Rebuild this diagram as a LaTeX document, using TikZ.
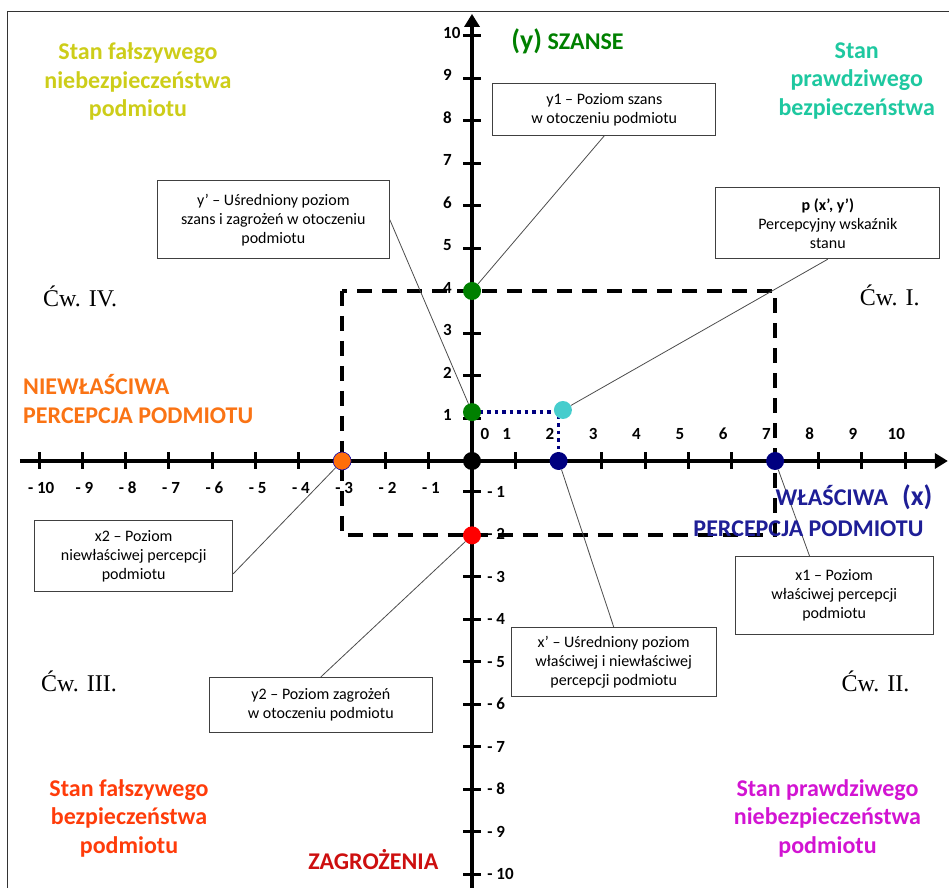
\documentclass[tikz,border=0pt]{standalone}
\usepackage{fontspec}
\setmainfont{Carlito}
\newfontfamily\cwfont{Liberation Serif}
\usetikzlibrary{arrows.meta}

\definecolor{stanyellow}{RGB}{205,205,25}
\definecolor{szgreen}{RGB}{0,128,0}
\definecolor{stanturq}{RGB}{30,200,160}
\definecolor{niewor}{RGB}{250,115,20}
\definecolor{wlnavy}{RGB}{30,30,150}
\definecolor{falszred}{RGB}{255,60,10}
\definecolor{zagred}{RGB}{205,15,15}
\definecolor{prawmag}{RGB}{210,20,210}
\definecolor{dotgreen}{RGB}{0,128,0}
\definecolor{dotcyan}{RGB}{70,205,205}
\definecolor{dotnavy}{RGB}{0,0,128}
\definecolor{dotorange}{RGB}{255,110,10}
\definecolor{dotred}{RGB}{255,0,0}

\begin{document}
\begin{tikzpicture}[x=43.3pt,y=42.5pt]

  \tikzset{main box/.style={rectangle, draw=black!75, line width=1pt,
  		fill=white, align=center, inner sep=0pt,
  		font=\fontsize{16}{19}\selectfont}, }
  \tikzset{title/.style={font=\bfseries\fontsize{24}{28.5}\selectfont,
  		align=center, inner sep=0pt}, }
  \tikzset{cw/.style={font=\cwfont\fontsize{24}{28}\selectfont, inner sep=0pt}, }
  \tikzset{num/.style={font=\bfseries\fontsize{17}{17}\selectfont, inner sep=0pt}, }
  \tikzset{dot/.style={circle, inner sep=0pt, minimum size=18pt}, }
  \tikzset{linea/.style={draw=black!70, line width=0.8pt}, }
  \tikzset{axis/.style={line width=4pt, -{Triangle[length=13pt,width=15pt]}}, }
  \tikzset{tick/.style={line width=3pt}, }
  \tikzset{dashed box/.style={line width=4pt, dash pattern=on 15pt off 10pt}, }
  \tikzset{dotted line/.style={draw=dotnavy, line width=3.5pt, dash pattern=on 3.5pt off 4pt}, }

\useasboundingbox (-10.901,-10.024) rectangle (11.016,10.847);
\draw[black!80, line width=1pt] (-10.739,-10.5) rectangle (11.5,10.565);

\coordinate (y1) at (0,4);
\coordinate (yp) at (0,1.15);
\coordinate (y2) at (0,-1.75);
\coordinate (x1) at (7,0);
\coordinate (x2) at (-3,0);
\coordinate (xp) at (2,0);
\coordinate (p)  at (2.1,1.2);

\draw[dashed box] (x2 |- y1) rectangle (x1 |- y2);
\draw[dotted line] (yp) -| (xp);

%% axes
\draw[axis] (-10.44,0) -- (10.99,0);
\draw[axis] (0,-10.5) -- (0,10.52);
\foreach \i in {-10,...,-1,1,2,...,10}
  \draw[tick] (\i,0.2) -- (\i,-0.2);
\foreach \i in {1,...,10}
  \draw[tick] (-0.2,\i) -- (0.2,\i);
\foreach \i in {1,...,10}
  \draw[tick] (-0.2,-\i+0.28) -- (0.2,-\i+0.28);

\node[num] (n0) at (0.3,0.64) {0};
\foreach \i in {1,...,10}
  \node[num] at (\i-0.2,0.64) {\i};
\foreach \i in {1,...,10}
  \node[num] at (-\i+0.05,-0.64) {- \i};
\foreach \i in {1,...,10}
  \node[num, anchor=west] at (-0.67,\i+0.08) {\i};
\foreach \i in {1,...,10}
  \node[num, anchor=west] at (0.35,-\i+0.28) {- \i};

%% points
\node[dot, fill=dotgreen] (gy1) at (y1) {};
\node[dot, fill=dotgreen] (gyp) at (yp) {};
\node[dot, fill=black] (o) at (0,0) {};
\node[dot, fill=dotcyan] (cp) at (p) {};
\node[dot, fill=dotnavy] (nxp) at (xp) {};
\node[dot, fill=dotnavy] (nx1) at (x1) {};
\node[dot, fill=dotorange, draw=blue!70!black, line width=0.6pt] (ox2) at (x2) {};
\node[dot, fill=dotred] (ry2) at (y2) {};

%% boxes
\node[main box, minimum width=223pt, minimum height=52pt] (y1box) at (3.055,8.275)
  {y1 –  Poziom  szans\\w otoczeniu podmiotu};
\node[main box, minimum width=232pt, minimum height=78pt] (ypbox) at (-4.589,5.678)
  {y’ – Uśredniony  poziom\\szans i zagrożeń w otoczeniu\\podmiotu};
\node[main box, minimum width=224pt, minimum height=71pt] (pbox) at (8.217,5.595)
  {\textbf{p (x’, y’)}\\Percepcyjny wskaźnik\\stanu};
\node[main box, minimum width=198pt, minimum height=71pt] (x2box) at (-7.813,-2.242)
  {x2 – Poziom\\niewłaściwej percepcji\\podmiotu};
\node[main box, minimum width=223pt, minimum height=55pt] (y2box) at (-3.492,-5.741)
  {y2 – Poziom  zagrożeń\\w otoczeniu  podmiotu};
\node[main box, minimum width=205pt, minimum height=69pt] (xpbox) at (3.273,-4.729)
  {x’ – Uśredniony poziom\\właściwej i niewłaściwej\\percepcji podmiotu};
\node[main box, minimum width=198pt, minimum height=78pt] (x1box) at (8.365,-3.165)
  {x1 – Poziom\\właściwej percepcji\\podmiotu};

\foreach \x/\y in {y1box.south/gy1, ypbox.east/gyp, pbox.south/cp, x2box.-10/ox2,
  y2box.north/ry2, xpbox.north/nxp, x1box.122/nx1}
  \draw[linea] (\x) -- (\y);

%% titles
\node[title, text=stanyellow] (falszneb) at (-7.714,8.925)
  {Stan fałszywego\\niebezpieczeństwa\\podmiotu};
\node[title, text=szgreen] (szanse) at (2.206,9.866)
  {{\fontsize{28}{28}\selectfont(y)} SZANSE};
\node[title, text=stanturq] (prawbez) at (8.885,8.948)
  {Stan\\prawdziwego\\bezpieczeństwa};
\node[title, text=niewor, align=left, anchor=west] (niewl) at (-10.37,1.454)
  {NIEWŁAŚCIWA\\PERCEPCJA PODMIOTU};
\node[title, text=wlnavy] (wl) at (8.823,-0.847)
  {WŁAŚCIWA\hspace{14pt}{\fontsize{28}{28}\selectfont(x)}};
\node[title, text=wlnavy] (wlperc) at (7.771,-1.584) {PERCEPCJA PODMIOTU};
\node[title, text=falszred] (falszbez) at (-7.921,-8.407)
  {Stan fałszywego\\bezpieczeństwa\\podmiotu};
\node[title, text=zagred] (zagr) at (-2.279,-9.372) {ZAGROŻENIA};
\node[title, text=prawmag] (prawneb) at (8.210,-8.407)
  {Stan prawdziwego\\niebezpieczeństwa\\podmiotu};

\node[cw] (cw4) at (-9.053,3.882) {Ćw. IV.};
\node[cw] (cw1) at (9.647,3.906) {Ćw. I.};
\node[cw] (cw3) at (-9.076,-5.193) {Ćw. III.};
\node[cw] (cw2) at (9.319,-5.193) {Ćw. II.};
%%
\end{tikzpicture}
\end{document}
